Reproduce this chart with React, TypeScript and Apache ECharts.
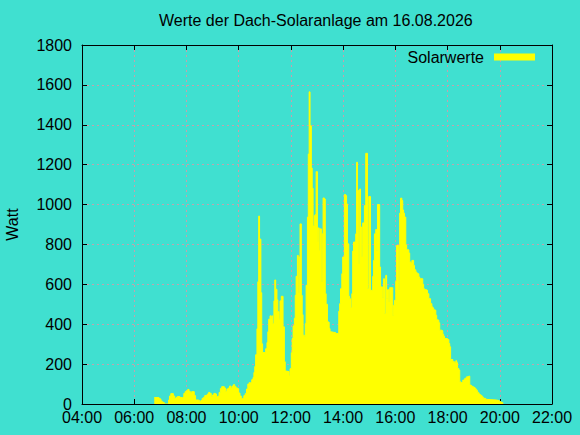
import React, { useEffect, useRef } from "react";
import * as echarts from "echarts";

const chartTitle = "Werte der Dach-Solaranlage am 16.08.2026";
const seriesName = "Solarwerte";
const yAxisName = "Watt";
const xTickLabels = ["04:00", "06:00", "08:00", "10:00", "12:00", "14:00", "16:00", "18:00", "20:00", "22:00"];
const yTickLabels = [0, 200, 400, 600, 800, 1000, 1200, 1400, 1600, 1800];

const times = [
  "06:46", "06:57", "07:00", "07:02", "07:05", "07:09", "07:19", "07:21", "07:24", "07:30",
  "07:33", "07:36", "07:39", "07:45", "07:51", "07:54", "07:57", "08:00", "08:03", "08:06",
  "08:09", "08:12", "08:18", "08:21", "08:27", "08:30", "08:33", "08:36", "08:39", "08:42",
  "08:45", "08:48", "08:51", "08:54", "08:57", "09:00", "09:03", "09:06", "09:09", "09:12",
  "09:15", "09:18", "09:21", "09:27", "09:30", "09:33", "09:36", "09:39", "09:42", "09:45",
  "09:48", "09:51", "09:54", "09:57", "10:00", "10:03", "10:06", "10:09", "10:12", "10:15",
  "10:18", "10:21", "10:24", "10:27", "10:30", "10:33", "10:35", "10:37", "10:39", "10:42",
  "10:44", "10:46", "10:48", "10:51", "10:53", "10:55", "11:02", "11:05", "11:07", "11:09",
  "11:12", "11:14", "11:16", "11:18", "11:21", "11:23", "11:25", "11:28", "11:30", "11:33",
  "11:35", "11:38", "11:42", "11:45", "11:47", "11:50", "11:56", "11:58", "12:01", "12:03",
  "12:05", "12:08", "12:10", "12:12", "12:15", "12:17", "12:19", "12:21", "12:24", "12:26",
  "12:28", "12:31", "12:33", "12:35", "12:38", "12:40", "12:42", "12:44", "12:47", "12:49",
  "12:51", "12:54", "12:56", "12:58", "13:01", "13:03", "13:05", "13:07", "13:10", "13:12",
  "13:14", "13:17", "13:19", "13:21", "13:24", "13:26", "13:28", "13:30", "13:33", "13:37",
  "13:43", "13:50", "13:52", "13:54", "13:57", "13:59", "14:03", "14:06", "14:08", "14:10",
  "14:13", "14:15", "14:17", "14:20", "14:22", "14:24", "14:29", "14:31", "14:33", "14:36",
  "14:38", "14:40", "14:43", "14:45", "14:49", "14:52", "14:56", "14:59", "15:03", "15:08",
  "15:10", "15:12", "15:15", "15:17", "15:19", "15:24", "15:26", "15:31", "15:33", "15:35",
  "15:38", "15:40", "15:42", "15:45", "15:47", "15:54", "15:56", "15:58", "16:01", "16:03",
  "16:08", "16:10", "16:12", "16:15", "16:17", "16:19", "16:21", "16:24", "16:26", "16:31",
  "16:33", "16:35", "16:38", "16:42", "16:44", "16:47", "16:49", "16:51", "16:54", "16:56",
  "17:03", "17:05", "17:07", "17:12", "17:14", "17:17", "17:21", "17:24", "17:26", "17:28",
  "17:30", "17:33", "17:35", "17:37", "17:40", "17:42", "17:47", "17:49", "17:51", "17:53",
  "18:00", "18:03", "18:05", "18:07", "18:12", "18:16", "18:19", "18:21", "18:23", "18:26",
  "18:28", "18:30", "18:33", "18:35", "18:37", "18:39", "18:42", "18:44", "18:46", "18:51",
  "18:53", "18:56", "19:00", "19:03", "19:05", "19:07", "19:09", "19:12", "19:14", "19:16",
  "19:19", "19:21", "19:23", "19:28", "19:30", "19:52", "19:59", "20:03", "20:07",
];

const watts = [
  32, 28, 22, 13, 8, 0, 20, 40, 52, 40,
  27, 33, 37, 32, 35, 53, 62, 67, 73, 63,
  58, 62, 42, 20, 18, 13, 17, 28, 33, 42,
  45, 50, 58, 53, 38, 45, 53, 50, 38, 40,
  58, 78, 87, 80, 63, 75, 80, 90, 80, 90,
  97, 87, 80, 77, 55, 40, 28, 30, 42, 52,
  75, 100, 107, 108, 122, 133, 158, 188, 247, 377,
  613, 942, 827, 558, 302, 258, 277, 308, 362, 425,
  442, 430, 442, 402, 517, 622, 575, 522, 463, 425,
  517, 540, 387, 212, 165, 162, 140, 177, 257, 328,
  392, 430, 545, 640, 745, 558, 737, 903, 545, 448,
  345, 340, 403, 595, 937, 1253, 1565, 1395, 1183, 1082,
  893, 945, 950, 1165, 812, 883, 770, 878, 612, 853,
  1033, 1028, 553, 500, 412, 410, 378, 362, 360, 358,
  353, 465, 503, 578, 653, 737, 1050, 1045, 1003, 803,
  540, 528, 482, 553, 767, 812, 853, 1212, 1070, 703,
  1078, 887, 737, 908, 995, 1257, 578, 1040, 570, 640,
  720, 853, 875, 770, 1000, 687, 587, 533, 628, 453,
  645, 528, 573, 512, 583, 445, 495, 520, 615, 795,
  573, 957, 1032, 1020, 973, 957, 937, 798, 773, 757,
  713, 707, 720, 695, 673, 662, 657, 653, 637, 628,
  600, 578, 573, 570, 553, 528, 503, 487, 482, 473,
  470, 445, 423, 420, 407, 370, 367, 350, 340, 328,
  323, 303, 287, 223, 212, 207, 217, 207, 178, 170,
  112, 108, 107, 120, 123, 127, 132, 137, 140, 95,
  92, 87, 83, 78, 73, 67, 57, 50, 47, 43,
  37, 33, 28, 23, 20, 17, 12, 7, 0,
];

const FONT = "'Liberation Sans', Arial, sans-serif";

function toMinutes(s: string): number {
  const [h, m] = s.split(":").map(Number);
  return h * 60 + m;
}

function formatMinutes(v: number): string {
  const h = Math.floor(v / 60);
  const m = Math.round(v - h * 60);
  return String(h).padStart(2, "0") + ":" + String(m).padStart(2, "0");
}

export default function App() {
  const ref = useRef<HTMLDivElement>(null);

  useEffect(() => {
    document.body.style.margin = "0";
    if (!ref.current) return;
    const chart = echarts.init(ref.current, undefined, { renderer: "svg" });

    const xMin = toMinutes(xTickLabels[0]);
    const xMax = toMinutes(xTickLabels[xTickLabels.length - 1]);
    const xInterval = toMinutes(xTickLabels[1]) - xMin;
    const yMin = yTickLabels[0];
    const yMax = yTickLabels[yTickLabels.length - 1];
    const yInterval = yTickLabels[1] - yTickLabels[0];

    const gridLine = { show: true, lineStyle: { color: "#c4a2ac", width: 1, type: [2, 3] as any } };
    const blackLine = { show: true, onZero: false, lineStyle: { color: "#000", width: 1 } };
    const tickIn = { show: true, inside: true, length: 5, lineStyle: { color: "#000", width: 1 } };

    const data = times.map((t, i) => [toMinutes(t), watts[i]]);

    chart.setOption({
      animation: false,
      backgroundColor: "#40e0d0",
      textStyle: { fontFamily: FONT },
      title: {
        text: chartTitle,
        left: 159,
        top: 12,
        padding: 0,
        textStyle: { fontSize: 16, fontWeight: "normal", color: "#000", fontFamily: FONT },
      },
      legend: {
        data: [seriesName],
        right: 45,
        top: 49,
        padding: 0,
        icon: "rect",
        itemWidth: 41,
        itemHeight: 7,
        align: "right",
        textStyle: { fontSize: 16, color: "#000", fontFamily: FONT, padding: [0, 5, 0, 0] },
      },
      grid: { left: 82, right: 28, top: 45, bottom: 31, containLabel: false, outerBoundsMode: "none" },
      xAxis: [
        {
          type: "value", position: "bottom", min: xMin, max: xMax, interval: xInterval, z: 10,
          axisLine: blackLine, axisTick: { show: false }, splitLine: { show: false },
          axisLabel: { show: true, margin: 7, lineHeight: 12, fontSize: 16, color: "#000", fontFamily: FONT, formatter: (v: number) => formatMinutes(v) },
        },
        {
          type: "value", position: "bottom", min: xMin, max: xMax, interval: xInterval, z: 0,
          axisLine: { show: false }, axisTick: tickIn, splitLine: gridLine, axisLabel: { show: false },
        },
        {
          type: "value", position: "top", min: xMin, max: xMax, interval: xInterval, z: 10,
          axisLine: blackLine, axisTick: tickIn, splitLine: { show: false }, axisLabel: { show: false },
        },
      ],
      yAxis: [
        {
          type: "value", position: "left", min: yMin, max: yMax, interval: yInterval, z: 10,
          name: yAxisName, nameLocation: "middle", nameRotate: 90, nameGap: 62,
          nameTextStyle: { fontSize: 16, color: "#000", fontFamily: FONT },
          axisLine: blackLine, axisTick: tickIn, splitLine: { show: false },
          axisLabel: { show: true, margin: 10, lineHeight: 12, fontSize: 16, color: "#000", fontFamily: FONT, formatter: (v: number) => String(v) },
        },
        {
          type: "value", position: "left", min: yMin, max: yMax, interval: yInterval, z: 0,
          axisLine: { show: false }, axisTick: { show: false }, splitLine: gridLine, axisLabel: { show: false },
        },
        {
          type: "value", position: "right", min: yMin, max: yMax, interval: yInterval, z: 10,
          axisLine: blackLine, axisTick: tickIn, splitLine: { show: false }, axisLabel: { show: false },
        },
      ],
      series: [
        {
          name: seriesName,
          type: "line",
          xAxisIndex: 0,
          yAxisIndex: 0,
          data,
          step: "end",
          symbol: "none",
          color: "#ffff00",
          itemStyle: { color: "#ffff00" },
          lineStyle: { width: 1, color: "#ffff00" },
          areaStyle: { color: "#ffff00", opacity: 1 },
          z: 2,
        },
      ],
    });

    return () => chart.dispose();
  }, []);

  return <div ref={ref} style={{ width: 580, height: 435 }} />;
}
